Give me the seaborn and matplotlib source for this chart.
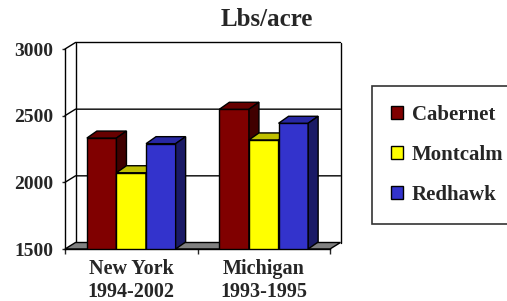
import pandas as pd
import seaborn as sns
import matplotlib.pyplot as plt
from matplotlib.patches import Polygon, Patch

# yields (lbs/acre)
regions = ["New York\n1994-2002", "Michigan\n1993-1995"]
varieties = ["Cabernet", "Montcalm", "Redhawk"]
cabernet = [2332, 2548]
montcalm = [2072, 2318]
redhawk = [2290, 2443]
yticks = [1500, 2000, 2500, 3000]

front = ["#800000", "#FFFF00", "#3333CC"]
top = ["#660000", "#C0C000", "#2828A3"]
side = ["#400000", "#9A9A00", "#1A1A66"]

df = pd.DataFrame({
    "region": regions * 3,
    "variety": [v for v in varieties for _ in regions],
    "yield": cabernet + montcalm + redhawk,
})

sns.set_style("white")
plt.rcParams["font.family"] = ["Liberation Serif", "DejaVu Serif"]
plt.rcParams["font.weight"] = "bold"

fig = plt.figure(figsize=(5.07, 3.01), dpi=100)
W, H = 507, 301
ax = fig.add_axes([65 / W, (H - 249) / H, (330 - 65) / W, 200 / H])

sns.barplot(data=df, x="region", y="yield", hue="variety", palette=front,
            saturation=1, width=0.67, edgecolor="black", linewidth=1,
            legend=False, ax=ax)
bars = sorted(ax.patches, key=lambda p: p.get_x())

ax.set_xlim(-0.5, 1.5)
ax.set_ylim(1500, 3000)

# pixel -> data conversions for the fake depth
px_x = 2 / 265
px_y = 1500 / 200
wdx, wdy = 10.5 * px_x, 6.5 * px_y
bdx, bdy = 10 * px_x, 7 * px_y

# back wall, side wall gridlines and floor
kw = dict(color="black", lw=1, clip_on=False, zorder=1)
for y in [2000, 2500, 3000]:
    ax.plot([-0.5, -0.5 + wdx, 1.5 + wdx], [y, y + wdy, y + wdy], **kw)
ax.plot([-0.5 + wdx, -0.5 + wdx], [1500 + wdy, 3000 + wdy], **kw)
ax.plot([1.5 + wdx, 1.5 + wdx], [1500 + wdy, 3000 + wdy], **kw)
ax.add_patch(Polygon([(-0.5, 1500), (1.5, 1500), (1.5 + wdx, 1500 + wdy),
                      (-0.5 + wdx, 1500 + wdy)], closed=True, facecolor="#808080",
                     edgecolor="black", lw=1, clip_on=False, zorder=1.5))

# 3d faces on each bar, left to right
for i, b in enumerate(bars):
    k = i % 3
    x0, x1 = b.get_x(), b.get_x() + b.get_width()
    y1 = b.get_height()
    b.set_zorder(3 + 3 * i)
    ax.add_patch(Polygon([(x0, y1), (x1, y1), (x1 + bdx, y1 + bdy), (x0 + bdx, y1 + bdy)],
                         facecolor=top[k], edgecolor="black", lw=1, zorder=4 + 3 * i))
    ax.add_patch(Polygon([(x1, 1500), (x1, y1), (x1 + bdx, y1 + bdy), (x1 + bdx, 1500 + bdy)],
                         facecolor=side[k], edgecolor="black", lw=1, zorder=4 + 3 * i))

for s in ["top", "right"]:
    ax.spines[s].set_visible(False)
for s in ["left", "bottom"]:
    ax.spines[s].set_color("black")
    ax.spines[s].set_linewidth(1)
    ax.spines[s].set_zorder(50)

ax.set_yticks(yticks)
ax.set_yticklabels([str(t) for t in yticks], fontsize=14, fontweight="bold")
ax.tick_params(axis="y", direction="out", length=2.5, width=1, pad=6, left=True)
ax.set_xticks([0, 1])
ax.set_xticklabels(regions, fontsize=14.5, fontweight="bold", linespacing=1.25)
ax.set_xticks([-0.5, 0.5, 1.5], minor=True)
ax.tick_params(axis="x", which="major", length=0, pad=7)
ax.tick_params(axis="x", which="minor", direction="out", length=3.5, width=1, bottom=True)
ax.set_xlabel("")
ax.set_ylabel("")

fig.text(267 / W, 1 - 19 / H, "Lbs/acre", ha="center", va="center",
         fontsize=18, fontweight="bold")

handles = [Patch(facecolor=c, edgecolor="black", lw=1) for c in front]
leg = fig.legend(handles, varieties, loc="upper left",
                 bbox_to_anchor=(372 / W, 1 - 86 / H), fontsize=15,
                 frameon=True, fancybox=False, edgecolor="black",
                 handlelength=0.6, handleheight=0.6, handletextpad=0.4,
                 labelspacing=0.97, borderpad=0.9, borderaxespad=0)
leg.get_frame().set_linewidth(1.2)
for t in leg.get_texts():
    t.set_fontweight("bold")

fig.savefig("out.png", dpi=100)
